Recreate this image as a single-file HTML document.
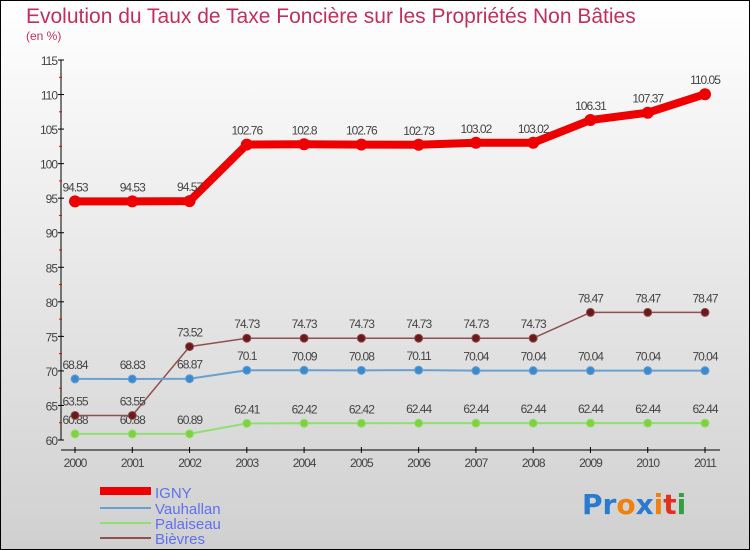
<!DOCTYPE html>
<html><head><meta charset="utf-8"><style>
body{margin:0}
#c{width:750px;height:550px;position:relative;overflow:hidden;font-family:"Liberation Sans",sans-serif}
</style></head><body>
<div id="c">
<svg id="s" width="750" height="550" xmlns="http://www.w3.org/2000/svg">
<defs><linearGradient id="bg" x1="0" y1="0" x2="0" y2="1"><stop offset="0" stop-color="#ffffff"/><stop offset="1" stop-color="#d0d0d0"/></linearGradient></defs>
<rect x="0.5" y="0.5" width="749" height="549" fill="url(#bg)" stroke="#000"/>
<text x="26" y="23" font-size="21" fill="#c0305a">Evolution du Taux de Taxe Foncière sur les Propriétés Non Bâties</text>
<text x="26" y="40" font-size="12" fill="#c0305a">(en %)</text>
<g id="axes"></g><g id="series"></g>
<g>
<rect x="100" y="487" width="51" height="8" fill="#ee0000"/><text x="155" y="498" font-size="15" fill="#6070ee">IGNY</text>
<line x1="100" y1="508" x2="151" y2="508" stroke="#6aa0d0" stroke-width="2"/><text x="155" y="514" font-size="15" fill="#6070ee">Vauhallan</text>
<line x1="100" y1="523" x2="151" y2="523" stroke="#90e070" stroke-width="2"/><text x="155" y="529" font-size="15" fill="#6070ee">Palaiseau</text>
<line x1="100" y1="538" x2="151" y2="538" stroke="#905050" stroke-width="2"/><text x="155" y="544" font-size="15" fill="#6070ee">Bièvres</text>
</g>
<text x="582" y="514" font-size="28" font-weight="bold" font-family="'DejaVu Sans',sans-serif"><tspan fill="#2a7ad0">Pr</tspan><tspan fill="#f08010">o</tspan><tspan fill="#2a7ad0">x</tspan><tspan fill="#f08010">i</tspan><tspan fill="#e03020">t</tspan><tspan fill="#30a040">i</tspan></text>
</svg>
</div>
<script>
const years=["2000","2001","2002","2003","2004","2005","2006","2007","2008","2009","2010","2011"];
const yTicks=[60,65,70,75,80,85,90,95,100,105,110,115];
const igny=[94.53,94.53,94.57,102.76,102.8,102.76,102.73,103.02,103.02,106.31,107.37,110.05];
const vauhallan=[68.84,68.83,68.87,70.1,70.09,70.08,70.11,70.04,70.04,70.04,70.04,70.04];
const palaiseau=[60.88,60.88,60.89,62.41,62.42,62.42,62.44,62.44,62.44,62.44,62.44,62.44];
const bievres=[63.55,63.55,73.52,74.73,74.73,74.73,74.73,74.73,74.73,78.47,78.47,78.47];
const NS="http://www.w3.org/2000/svg";
const X=i=>75+i*(630/11);
const Y=v=>440-(v-60)*(380/55);
function mk(t,a,p){const e=document.createElementNS(NS,t);for(const k in a)e.setAttribute(k,a[k]);p.appendChild(e);return e;}
const ax=document.getElementById('axes');
let yl=mk('line',{x1:61,y1:Y(115),x2:61,y2:440,stroke:'#000'},ax);


yTicks.forEach(v=>{
 mk('line',{x1:58,y1:Y(v),x2:64,y2:Y(v),stroke:'#000'},ax);
 if(v<115)mk('line',{x1:59,y1:Y(v+2.5),x2:62,y2:Y(v+2.5),stroke:'#e00'},ax);
 const t=mk('text',{x:57,y:Y(v)+5,'text-anchor':'end','font-size':12,fill:'#444','letter-spacing':'-1'},ax);t.textContent=v;
 
 
});
let xl=mk('line',{x1:61,y1:450,x2:720,y2:450,stroke:'#000'},ax);


years.forEach((y,i)=>{
 mk('line',{x1:X(i),y1:447,x2:X(i),y2:453,stroke:'#000'},ax);
 const t=mk('text',{x:X(i),y:467,'text-anchor':'middle','font-size':12,fill:'#444','letter-spacing':'-1'},ax);t.textContent=y;
 
 
});
const sg=document.getElementById('series');
function draw(name,data,color,w,r,dot){
 const g=mk('g',{},sg);
 
 
 mk('polyline',{points:data.map((v,i)=>X(i)+','+Y(v)).join(' '),fill:'none',stroke:color,'stroke-width':w,'stroke-linejoin':'round'},g);
 data.forEach((v,i)=>{
  const c=mk('circle',{cx:X(i),cy:Y(v),r:r,fill:dot,stroke:color==dot?'none':color},g);
  
  
  const t=mk('text',{x:X(i),y:Y(v)-10,'text-anchor':'middle','font-size':12,fill:'#444','letter-spacing':'-1'},g);t.textContent=v;
  
  
 });
}
draw('palaiseau',palaiseau,'#90e070',2,4,'#80d040');
draw('bievres',bievres,'#905050',1.5,4,'#6a1a1a');
draw('vauhallan',vauhallan,'#6aa0d0',2,4,'#3a8ad0');
draw('igny',igny,'#ee0000',8,6,'#ee0000');
</script>
</body></html>
